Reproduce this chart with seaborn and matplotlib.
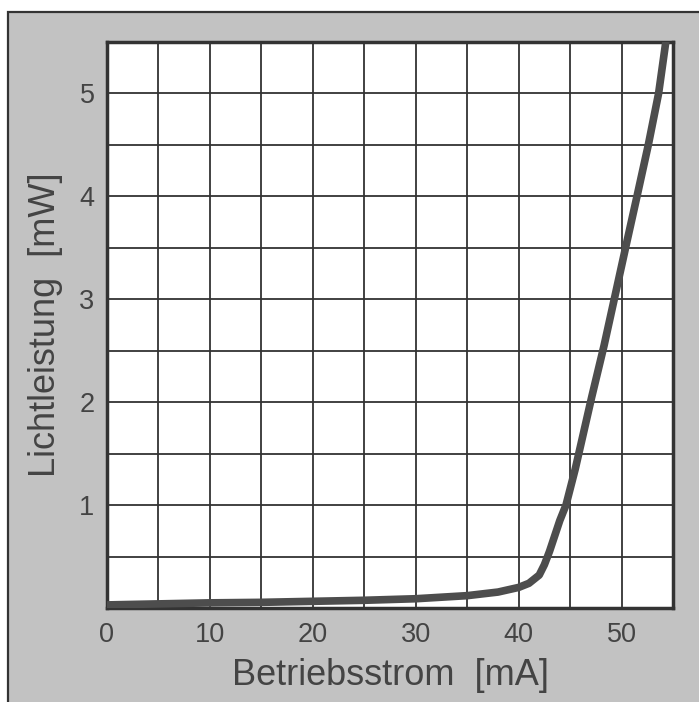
import matplotlib
matplotlib.use("Agg")
import matplotlib.pyplot as plt
from matplotlib.patches import Rectangle
from matplotlib.ticker import MultipleLocator
import pandas as pd
import seaborn as sns

# operating current [mA] and light output [mW]
current_ma = [0, 5, 10, 15, 20, 25, 30, 35, 38, 40, 41, 42, 42.5, 43, 43.5,
              44, 44.6, 45.5, 46.3, 47.1, 48.3, 49.4, 50.5, 51.5, 52.6, 53.6, 54.3]
power_mw = [0.03, 0.04, 0.05, 0.055, 0.065, 0.075, 0.09, 0.12, 0.155, 0.2,
            0.24, 0.32, 0.42, 0.55, 0.7, 0.85, 1.0, 1.35, 1.7, 2.05, 2.55,
            3.05, 3.55, 4.0, 4.5, 5.0, 5.5]

x_ticks = [0, 10, 20, 30, 40, 50]
y_ticks = [1, 2, 3, 4, 5]

df = pd.DataFrame({"strom": current_ma, "leistung": power_mw})

sns.set_style("white")
plt.rcParams["font.family"] = ["Liberation Sans", "DejaVu Sans"]

fig = plt.figure(figsize=(6.99, 7.02), dpi=100)
fig.patch.set_facecolor("white")

# stippled grey frame behind everything
frame = Rectangle((8 / 699, -0.02), 1.1, (702 - 12) / 702 + 0.02,
                  transform=fig.transFigure, facecolor="#c2c2c2",
                  edgecolor="#333333", linewidth=1.6, zorder=-5)
fig.patches.append(frame)

ax = fig.add_axes([107 / 699, 94 / 702, 566 / 699, 566 / 702])
ax.set_zorder(1)
ax.set_facecolor("white")

sns.lineplot(data=df, x="strom", y="leistung", ax=ax, color="#4d4d4d",
             linewidth=5.5, zorder=3)

ax.set_xlim(0, 55)
ax.set_ylim(0, 5.5)
ax.set_xticks(x_ticks)
ax.set_yticks(y_ticks)
ax.xaxis.set_minor_locator(MultipleLocator(5))
ax.yaxis.set_minor_locator(MultipleLocator(0.5))
ax.grid(which="both", color="#333333", linewidth=1.3)
ax.set_axisbelow(True)
ax.tick_params(which="both", length=0, labelsize=19.5, labelcolor="#444444")
ax.tick_params(axis="x", pad=10)
ax.tick_params(axis="y", pad=9)

for sp in ax.spines.values():
    sp.set_visible(True)
    sp.set_color("#333333")
    sp.set_linewidth(2.5)

ax.set_xlabel("Betriebsstrom  [mA]", fontsize=26, color="#444444", labelpad=7)
ax.set_ylabel("Lichtleistung  [mW]", fontsize=26, color="#444444", labelpad=12)

fig.savefig("out.png", dpi=100)
